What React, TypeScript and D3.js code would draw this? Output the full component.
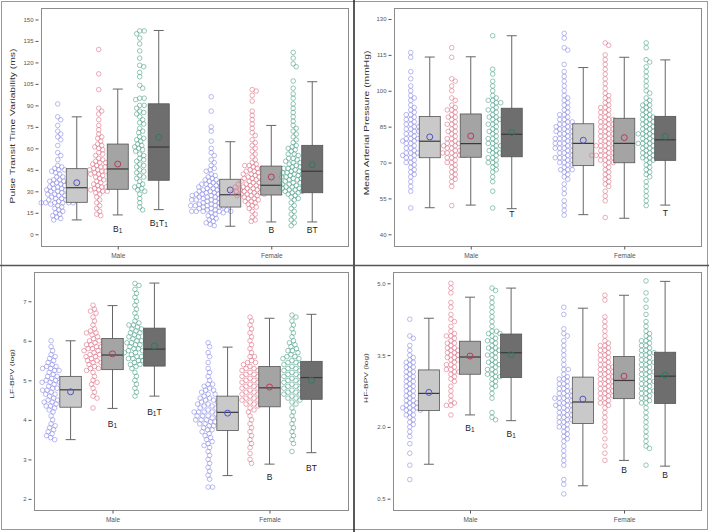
import { useEffect, useRef } from 'react';
import * as d3 from 'd3';

const SEXES = ['Male', 'Female'];
const CONDITIONS = ['c1', 'c2', 'c3'];
const FONT = '"Liberation Sans", Arial, sans-serif';
const POINT_COLORS = ['#8c8ce6', '#de7489', '#4fa28a'];
const MEAN_COLORS = ['#5252c4', '#b83c5a', '#2d7a65'];
const BOX_FILLS = ['#c9c9c9', '#a4a4a4', '#6e6e6e'];

// Pulse transit time variability (ms), one list per condition
const pttvMale = [
  [91, 82, 80, 76, 72, 70, 68, 66, 62, 57, 55, 52, 48, 47, 46, 45, 44, 42, 40, 38, 37, 37, 36, 35, 34, 33, 32, 31, 30, 29, 28, 27, 26, 25, 24, 23, 22, 22, 22, 22, 22, 22, 21, 20, 18, 17, 16, 15, 14, 13, 12, 11, 10,
    25, 27, 29, 30, 32, 33, 35, 36, 38, 40, 43, 45, 19, 24, 28, 31],
  [129, 112, 101, 88, 86, 84, 80, 76, 73, 70, 68, 67, 65, 63, 61, 59, 57, 55, 53, 51, 50, 49, 47, 46, 45, 44, 43, 42, 41, 40, 38, 36, 34, 33, 32, 31, 31, 30, 29, 28, 26, 24, 22, 20, 18, 16, 14, 13,
    33, 35, 37, 39, 42, 44, 47, 48, 52, 56, 60, 62, 30, 45, 50],
  [142, 142, 140, 137, 133, 128, 123, 118, 117, 113, 110, 104, 102, 95, 95, 94, 90, 88, 86, 84, 82, 80, 77, 74, 71, 68, 66, 65, 63, 61, 59, 56, 53, 51, 49, 47, 45, 43, 41, 39, 37, 35, 33, 32, 31, 30, 28, 25, 22, 19, 17,
    40, 44, 48, 52, 55, 58, 62, 67, 72, 78, 85, 90, 34, 60],
];
const pttvFemale = [
  [96, 86, 75, 72, 65, 60, 57, 55, 52, 50, 48, 46, 45, 44, 42, 41, 40, 39, 38, 37, 36, 35, 34, 33, 33, 32, 31, 30, 30, 29, 28, 28, 27, 27, 26, 25, 25, 24, 24, 23, 22, 22, 21, 21, 20, 20, 19, 19, 18, 17, 17, 16, 16, 16, 16, 16, 15, 15, 14, 13, 12, 11, 10, 9, 8, 7, 6,
    19, 20, 21, 22, 23, 24, 25, 26, 27, 28, 29, 30, 31, 32, 34, 36, 18, 22, 24, 26, 28, 30, 33, 35, 38, 17, 20],
  [101, 100, 97, 93, 86, 83, 80, 77, 74, 71, 69, 66, 64, 62, 60, 58, 56, 54, 52, 50, 49, 48, 47, 46, 45, 44, 43, 42, 41, 40, 39, 38, 37, 36, 35, 35, 34, 33, 33, 32, 31, 31, 30, 30, 29, 28, 28, 27, 27, 26, 25, 24, 23, 22, 21, 20, 19, 18, 16, 14, 12, 10, 9,
    27, 28, 29, 30, 31, 32, 33, 34, 35, 36, 37, 38, 40, 42, 44, 46, 48, 29, 31, 33, 35, 39, 25, 23, 30],
  [127, 123, 119, 117, 107, 102, 98, 95, 91, 88, 85, 82, 79, 76, 74, 72, 70, 68, 66, 64, 62, 61, 59, 58, 56, 55, 53, 52, 50, 49, 48, 47, 46, 45, 44, 43, 42, 41, 40, 39, 38, 37, 36, 35, 34, 33, 32, 31, 30, 29, 28, 27, 26, 25, 24, 22, 20, 18, 16, 14, 12, 10, 8, 6,
    29, 31, 33, 35, 37, 39, 41, 43, 45, 47, 50, 53, 56, 60, 34, 38, 42, 46, 30, 32, 36, 40, 44, 51],
];
// [lower whisker, Q1, median, Q3, upper whisker, mean]
const pttvBoxMale = [[10, 22.3, 32.5, 45.8, 82, 36], [13.5, 31.4, 45.6, 63, 101.4, 49], [17.2, 37.7, 60.9, 91.1, 142.3, 67.7]];
const pttvBoxFemale = [[5.6, 19, 27.6, 38.4, 64.6, 30.9], [8.6, 27.4, 34.2, 47.6, 76, 40], [8.6, 29, 44, 62.1, 106.5, 48.6]];
const pttvTicks = [0, 15, 30, 45, 60, 75, 90, 105, 120, 135, 150];
const pttvLabels: [string, number, string][] = [['Male', 1, 'B1'], ['Male', 2, 'B1T1'], ['Female', 1, 'B'], ['Female', 2, 'BT']];

// Mean arterial pressure (mmHg)
const mapMale = [
  [116, 114, 108, 105, 102, 100, 98, 97, 96, 94, 93, 92, 91, 90, 89, 88, 87, 86, 85, 85, 84, 83, 82, 81, 80, 80, 79, 78, 77, 76, 75, 74, 74, 73, 73, 72, 71, 70, 69, 68, 67, 66, 65, 64, 62, 60, 58, 51,
    72, 74, 76, 78, 80, 82, 84, 86, 88, 73, 79, 83, 90, 70],
  [118, 114, 105, 104, 102, 100, 97, 96, 94, 93, 92, 91, 90, 89, 88, 87, 86, 85, 84, 83, 82, 81, 80, 79, 78, 78, 77, 76, 75, 74, 74, 73, 73, 72, 71, 70, 69, 68, 67, 66, 65, 64, 63, 62, 60, 52,
    72, 74, 76, 78, 80, 83, 86, 89, 92, 73, 75, 77, 70],
  [123, 109, 107, 104, 102, 100, 98, 97, 96, 95, 94, 93, 92, 91, 90, 89, 88, 87, 86, 85, 84, 83, 82, 81, 80, 79, 78, 77, 77, 76, 75, 74, 73, 72, 71, 70, 69, 68, 67, 66, 64, 62, 58, 51,
    72, 75, 78, 80, 83, 86, 89, 92, 95, 74, 88, 96, 70],
];
const mapFemale = [
  [124, 122, 118, 117, 111, 108, 106, 104, 102, 100, 98, 97, 96, 95, 94, 93, 92, 91, 90, 89, 88, 87, 86, 85, 84, 84, 83, 83, 82, 81, 80, 80, 79, 78, 78, 77, 76, 76, 75, 74, 73, 72, 72, 71, 70, 69, 68, 67, 67, 67, 66, 65, 64, 63, 61, 59, 57, 54, 52, 50, 48,
    69, 71, 73, 75, 77, 79, 81, 83, 85, 87, 72, 74, 76, 78, 80, 82, 84, 86, 88, 90, 70, 75, 80, 85],
  [120, 119, 115, 113, 111, 109, 107, 105, 103, 101, 99, 98, 97, 96, 95, 94, 93, 92, 91, 90, 89, 88, 87, 86, 85, 84, 83, 82, 81, 80, 79, 78, 77, 77, 76, 75, 74, 73, 73, 73, 73, 73, 72, 71, 70, 69, 68, 67, 66, 65, 64, 63, 62, 61, 60, 58, 56, 54, 47,
    70, 72, 74, 76, 78, 80, 82, 84, 86, 88, 71, 75, 79, 83, 87, 91, 93, 73, 77, 81, 85, 89],
  [120, 118, 113, 112, 110, 108, 106, 104, 102, 100, 99, 97, 96, 95, 94, 93, 92, 91, 90, 89, 88, 87, 86, 85, 84, 83, 82, 82, 81, 80, 79, 78, 78, 77, 76, 75, 74, 73, 72, 71, 70, 69, 68, 67, 66, 65, 64, 62, 60, 58, 56, 54, 52,
    71, 73, 75, 77, 79, 81, 83, 85, 87, 89, 72, 76, 80, 84, 88, 92, 74, 78, 82, 86, 90, 94],
];
const mapBoxMale = [[51.1, 72, 78.9, 89.2, 114.1, 80.7], [52.2, 72.2, 77.9, 90.3, 114.2, 81.1], [50.7, 72.4, 81.8, 92.7, 123, 82.5]];
const mapBoxFemale = [[48.2, 68.7, 78, 86.2, 109.7, 79.3], [46.7, 69.9, 78, 88.5, 114, 80.4], [52.2, 70.9, 79.5, 89.3, 112.9, 81]];
const mapTicks = [40, 55, 70, 85, 100, 115, 130];
const mapLabels: [string, number, string][] = [['Male', 2, 'T'], ['Female', 2, 'T']];

// LF-BPV (log)
const lfMale = [
  [6.0, 5.85, 5.75, 5.65, 5.6, 5.55, 5.5, 5.45, 5.4, 5.35, 5.3, 5.25, 5.2, 5.15, 5.1, 5.05, 5.0, 4.95, 4.95, 4.9, 4.85, 4.8, 4.75, 4.7, 4.65, 4.6, 4.55, 4.5, 4.45, 4.4, 4.35, 4.3, 4.25, 4.2, 4.1, 4.0, 3.9, 3.85, 3.8, 3.75, 3.7, 3.65, 3.6, 3.55, 3.5,
    4.35, 4.5, 4.65, 4.8, 4.9, 5.0, 5.1, 5.25, 5.3, 4.45, 4.75, 4.95, 5.35],
  [6.9, 6.8, 6.75, 6.7, 6.6, 6.5, 6.4, 6.3, 6.25, 6.2, 6.15, 6.1, 6.05, 6.0, 5.95, 5.9, 5.85, 5.8, 5.75, 5.7, 5.65, 5.6, 5.55, 5.5, 5.45, 5.4, 5.35, 5.3, 5.25, 5.2, 5.1, 5.0, 4.95, 4.9, 4.8, 4.7, 4.6, 4.55, 4.3,
    5.3, 5.45, 5.6, 5.75, 5.9, 6.0, 5.5, 5.65, 5.85, 6.2, 5.8],
  [7.45, 7.4, 7.3, 7.2, 7.1, 7.0, 6.9, 6.8, 6.7, 6.6, 6.5, 6.45, 6.4, 6.35, 6.3, 6.25, 6.2, 6.15, 6.1, 6.05, 6.0, 5.95, 5.9, 5.85, 5.8, 5.75, 5.7, 5.65, 5.6, 5.55, 5.5, 5.45, 5.4, 5.35, 5.3, 5.2, 5.1, 5.0, 4.9, 4.8, 4.7, 4.6,
    5.4, 5.5, 5.6, 5.7, 5.8, 5.9, 6.0, 6.1, 6.2, 6.3, 5.55, 5.75, 5.95, 6.4],
];
const lfFemale = [
  [5.95, 5.85, 5.7, 5.6, 5.45, 5.3, 5.2, 5.1, 5.0, 4.9, 4.85, 4.8, 4.75, 4.7, 4.65, 4.6, 4.55, 4.5, 4.45, 4.4, 4.35, 4.3, 4.25, 4.2, 4.2, 4.15, 4.1, 4.1, 4.05, 4.0, 3.95, 3.9, 3.85, 3.8, 3.75, 3.7, 3.65, 3.6, 3.55, 3.5, 3.45, 3.4, 3.35, 3.3, 3.2, 3.1, 3.0, 2.9, 2.8, 2.7, 2.6, 2.5, 2.3, 2.3,
    3.75, 3.85, 3.95, 4.05, 4.15, 4.25, 4.35, 4.45, 4.55, 4.65, 3.9, 4.0, 4.1, 4.2, 4.3, 4.4, 4.5, 4.75, 4.9, 4.0, 4.2, 4.4],
  [6.6, 6.5, 6.4, 6.3, 6.2, 6.1, 6.0, 5.9, 5.8, 5.7, 5.6, 5.5, 5.45, 5.4, 5.35, 5.3, 5.25, 5.2, 5.15, 5.1, 5.05, 5.0, 4.95, 4.9, 4.85, 4.8, 4.75, 4.7, 4.65, 4.6, 4.55, 4.5, 4.45, 4.4, 4.35, 4.3, 4.25, 4.2, 4.1, 4.0, 3.9, 3.8, 3.7, 3.6, 3.5, 3.4, 3.3, 3.15, 3.0, 2.9,
    4.4, 4.5, 4.6, 4.7, 4.8, 4.9, 5.0, 5.1, 5.2, 5.3, 4.45, 4.65, 4.85, 5.05, 5.25, 5.45, 5.6, 4.55, 4.75, 4.95, 5.15],
  [6.65, 6.6, 6.5, 6.4, 6.3, 6.2, 6.1, 6.0, 5.95, 5.9, 5.85, 5.8, 5.75, 5.7, 5.65, 5.6, 5.55, 5.5, 5.45, 5.4, 5.35, 5.3, 5.25, 5.2, 5.15, 5.1, 5.05, 5.0, 4.95, 4.9, 4.85, 4.8, 4.75, 4.7, 4.65, 4.6, 4.55, 4.5, 4.45, 4.4, 4.3, 4.2, 4.1, 4.0, 3.9, 3.8, 3.7, 3.6, 3.5, 3.4, 3.2,
    4.55, 4.65, 4.75, 4.85, 4.95, 5.05, 5.15, 5.25, 5.35, 5.45, 5.55, 4.6, 4.8, 5.0, 5.2, 5.4, 5.6, 5.75, 4.7, 4.9, 5.1, 5.3],
];
const lfBoxMale = [[3.5, 4.32, 4.76, 5.1, 6.0, 4.71], [4.29, 5.27, 5.64, 6.06, 6.89, 5.67], [4.6, 5.36, 5.79, 6.32, 7.46, 5.87]];
const lfBoxFemale = [[2.59, 3.73, 4.19, 4.6, 5.84, 4.17], [2.88, 4.33, 4.81, 5.35, 6.57, 4.83], [3.17, 4.52, 5.07, 5.48, 6.67, 5.0]];
const lfTicks = [2, 3, 4, 5, 6, 7];
const lfLabels: [string, number, string][] = [['Male', 1, 'B1'], ['Male', 2, 'B1T'], ['Female', 1, 'B'], ['Female', 2, 'BT']];

// HF-BPV (log)
const hfMale = [
  [4.25, 3.9, 3.85, 3.7, 3.6, 3.5, 3.45, 3.4, 3.35, 3.3, 3.25, 3.2, 3.15, 3.1, 3.05, 3.0, 2.95, 2.9, 2.85, 2.8, 2.75, 2.7, 2.65, 2.6, 2.55, 2.5, 2.45, 2.4, 2.4, 2.35, 2.35, 2.3, 2.25, 2.2, 2.15, 2.1, 2.05, 2.0, 1.9, 1.8, 1.65, 1.45, 1.2, 0.9,
    2.35, 2.45, 2.55, 2.65, 2.75, 2.85, 2.95, 3.05, 3.15, 3.25, 3.35, 2.25, 2.4, 2.5],
  [5.0, 4.9, 4.8, 4.6, 4.5, 4.35, 4.25, 4.2, 4.1, 4.0, 3.95, 3.9, 3.85, 3.8, 3.75, 3.7, 3.65, 3.6, 3.55, 3.5, 3.45, 3.4, 3.35, 3.3, 3.25, 3.2, 3.15, 3.1, 3.05, 3.0, 2.95, 2.85, 2.75, 2.65, 2.55, 2.5, 2.45, 2.45, 2.25,
    3.15, 3.3, 3.45, 3.6, 3.75, 3.9, 3.5, 3.55, 3.65, 3.2, 3.4],
  [4.9, 4.85, 4.7, 4.6, 4.5, 4.4, 4.3, 4.2, 4.1, 4.0, 3.95, 3.9, 3.85, 3.8, 3.75, 3.7, 3.65, 3.6, 3.55, 3.5, 3.45, 3.4, 3.35, 3.3, 3.25, 3.2, 3.15, 3.1, 3.05, 3.0, 2.95, 2.9, 2.85, 2.8, 2.7, 2.6, 2.3, 2.2, 2.15,
    3.05, 3.2, 3.35, 3.5, 3.65, 3.8, 3.95, 3.1, 3.3, 3.6, 4.0],
];
const hfFemale = [
  [4.5, 4.35, 4.05, 3.95, 3.9, 3.8, 3.7, 3.6, 3.5, 3.4, 3.3, 3.2, 3.1, 3.05, 3.0, 2.95, 2.9, 2.85, 2.8, 2.75, 2.7, 2.65, 2.6, 2.55, 2.5, 2.45, 2.45, 2.4, 2.35, 2.3, 2.25, 2.2, 2.15, 2.1, 2.05, 2.0, 1.95, 1.9, 1.85, 1.8, 1.75, 1.7, 1.6, 1.5, 1.4, 1.3, 1.2, 0.9, 0.8, 0.6,
    2.1, 2.2, 2.3, 2.4, 2.5, 2.6, 2.7, 2.8, 2.9, 3.0, 2.15, 2.25, 2.35, 2.45, 2.55, 2.65, 2.75, 3.2, 2.0, 2.4, 2.6],
  [4.75, 4.65, 4.3, 4.2, 4.1, 4.0, 3.9, 3.8, 3.75, 3.7, 3.65, 3.6, 3.55, 3.5, 3.45, 3.4, 3.35, 3.3, 3.25, 3.2, 3.15, 3.1, 3.05, 3.0, 2.95, 2.9, 2.85, 2.8, 2.75, 2.7, 2.65, 2.6, 2.55, 2.5, 2.45, 2.4, 2.3, 2.2, 2.1, 2.0, 1.9, 1.75, 1.6, 1.45, 1.3,
    2.6, 2.7, 2.8, 2.9, 3.0, 3.1, 3.2, 3.3, 3.4, 3.5, 2.65, 2.75, 2.85, 2.95, 3.05, 3.15, 3.25, 3.6, 3.7, 2.5],
  [5.05, 4.8, 4.65, 4.5, 4.35, 4.2, 4.1, 4.0, 3.95, 3.9, 3.85, 3.8, 3.75, 3.7, 3.65, 3.6, 3.55, 3.5, 3.45, 3.4, 3.35, 3.3, 3.25, 3.2, 3.15, 3.1, 3.05, 3.0, 2.95, 2.9, 2.85, 2.8, 2.75, 2.7, 2.65, 2.6, 2.5, 2.4, 2.3, 2.2, 2.1, 2.0, 1.9, 1.8, 1.7, 1.6, 1.55, 1.2,
    2.5, 2.6, 2.7, 2.8, 2.9, 3.0, 3.1, 3.2, 3.3, 3.4, 3.5, 3.6, 2.55, 2.75, 2.95, 3.15, 3.35, 3.55, 3.7, 3.8],
];
const hfBoxMale = [[1.22, 2.34, 2.7, 3.19, 4.27, 2.72], [2.25, 3.1, 3.46, 3.79, 4.71, 3.48], [2.13, 3.03, 3.55, 3.94, 4.9, 3.51]];
const hfBoxFemale = [[0.77, 2.07, 2.52, 3.04, 4.48, 2.58], [1.3, 2.59, 2.97, 3.47, 4.75, 3.06], [1.18, 2.49, 3.06, 3.56, 5.04, 3.08]];
const hfTicks = [0.5, 2.0, 3.5, 5.0];
const hfLabels: [string, number, string][] = [['Male', 1, 'B1'], ['Male', 2, 'B1'], ['Female', 1, 'B'], ['Female', 2, 'B']];

const PANELS = [
  {
    title: 'Pulse Transit Time Variability (ms)', groups: [pttvMale, pttvFemale], boxes: [pttvBoxMale, pttvBoxFemale],
    ticks: pttvTicks, labels: pttvLabels, fmt: d3.format('d'),
    frame: [41, 8, 348, 246], domain: [-8.2, 158], titleX: 12, titleY: 126, titleSize: 10.3, labelGaps: [17, 16, 11.5, 11.5],
  },
  {
    title: 'Mean Arterial Pressure (mmHg)', groups: [mapMale, mapFemale], boxes: [mapBoxMale, mapBoxFemale],
    ticks: mapTicks, labels: mapLabels, fmt: d3.format('d'),
    frame: [394, 8, 701, 246], domain: [35.1, 134.6], titleX: 366, titleY: 123, titleSize: 10.3, labelGaps: [8, 10.5],
  },
  {
    title: 'LF-BPV (log)', groups: [lfMale, lfFemale], boxes: [lfBoxMale, lfBoxFemale],
    ticks: lfTicks, labels: lfLabels, fmt: d3.format('d'),
    frame: [34, 272, 348, 510], domain: [1.72, 7.74], titleX: 12, titleY: 374, titleSize: 8.6, labelGaps: [19, 19, 16, 18],
  },
  {
    title: 'HF-BPV (log)', groups: [hfMale, hfFemale], boxes: [hfBoxMale, hfBoxFemale],
    ticks: hfTicks, labels: hfLabels, fmt: d3.format('.1f'),
    frame: [393, 272, 701, 510], domain: [0.264, 5.236], titleX: 366, titleY: 378, titleSize: 8.4, labelGaps: [16.5, 16, 13, 12],
  },
];

// simple dodge layout so overlapping points spread sideways
function swarm(values: number[], y: (v: number) => number, dist: number) {
  const placed: { x: number; y: number }[] = [];
  return [...values].sort((a, b) => b - a).map((v) => {
    const py = y(v);
    let off = 0;
    for (let k = 0; k < 400; k++) {
      const cand = k === 0 ? 0 : (k % 2 ? 1 : -1) * Math.ceil(k / 2) * 0.5;
      if (placed.every((p) => (p.x - cand) ** 2 + (p.y - py) ** 2 >= dist * dist)) { off = cand; break; }
    }
    placed.push({ x: off, y: py });
    return { x: off, y: py };
  });
}

export default function App() {
  const svgRef = useRef<SVGSVGElement>(null);

  useEffect(() => {
    const svg = d3.select(svgRef.current);
    svg.selectAll('*').remove();
    svg.append('rect').attr('width', 709).attr('height', 532).attr('fill', '#fff');

    PANELS.forEach((p) => {
      const [x0, y0, x1, y1] = p.frame;
      const y = d3.scaleLinear().domain(p.domain).range([y1, y0]);
      const xs = d3.scalePoint().domain(SEXES).range([x0, x1]).padding(0.5);
      const step = xs.step();
      const xc = d3.scalePoint().domain(CONDITIONS).range([-step * 0.267, step * 0.267]);
      const boxW = step * 0.137;
      const g = svg.append('g');

      g.append('rect').attr('x', x0 + 0.5).attr('y', y0 + 0.5).attr('width', x1 - x0).attr('height', y1 - y0)
        .attr('fill', 'none').attr('stroke', '#8c8c8c');

      g.append('g').attr('transform', `translate(${x0 - 2.5},0)`)
        .call(d3.axisLeft(y).tickValues(p.ticks).tickFormat(p.fmt as any).tickSize(3).tickPadding(2))
        .call((a) => a.select('.domain').remove())
        .attr('font-size', 6).attr('font-family', FONT).attr('color', '#555');

      g.append('g').attr('transform', `translate(0,${y1 + 0.5})`)
        .call(d3.axisBottom(xs).tickSize(3).tickPadding(4))
        .call((a) => a.select('.domain').remove())
        .attr('font-size', 6.5).attr('font-family', FONT).attr('color', '#555');

      g.append('text')
        .attr('transform', `translate(${p.titleX},${p.titleY}) rotate(-90) scale(1,0.72)`)
        .attr('text-anchor', 'middle').attr('dy', '0.35em')
        .attr('font-size', p.titleSize).attr('font-family', FONT).attr('fill', '#333')
        .text(p.title);

      SEXES.forEach((sex, si) => {
        p.groups[si].forEach((vals, ci) => {
          const cx = xs(sex)! + xc(CONDITIONS[ci])!;
          const px = cx - step * 0.124;
          const pts = swarm(vals, y, 4.1);
          g.append('g').selectAll('circle').data(pts).join('circle')
            .attr('cx', (d) => px + d.x).attr('cy', (d) => d.y).attr('r', 2.3)
            .attr('fill', 'none').attr('stroke', POINT_COLORS[ci]).attr('stroke-width', 0.7).attr('stroke-opacity', 0.85);

          const [lo, q1, med, q3, hi, mean] = p.boxes[si][ci];
          const wk = g.append('g').attr('stroke', '#666').attr('stroke-width', 1);
          wk.append('line').attr('x1', cx).attr('x2', cx).attr('y1', y(hi)).attr('y2', y(lo));
          wk.append('line').attr('x1', cx - 5).attr('x2', cx + 5).attr('y1', y(hi)).attr('y2', y(hi));
          wk.append('line').attr('x1', cx - 5).attr('x2', cx + 5).attr('y1', y(lo)).attr('y2', y(lo));
          g.append('rect').attr('x', cx - boxW / 2).attr('width', boxW)
            .attr('y', y(q3)).attr('height', y(q1) - y(q3))
            .attr('fill', BOX_FILLS[ci]).attr('stroke', '#555').attr('stroke-width', 0.8);
          g.append('line').attr('x1', cx - boxW / 2).attr('x2', cx + boxW / 2).attr('y1', y(med)).attr('y2', y(med))
            .attr('stroke', '#3a3a3a').attr('stroke-width', 1.2);
          g.append('circle').attr('cx', cx).attr('cy', y(mean)).attr('r', 3)
            .attr('fill', 'none').attr('stroke', MEAN_COLORS[ci]).attr('stroke-width', 1);
        });
      });

      p.labels.forEach(([sex, ci, text], li) => {
        const si = SEXES.indexOf(sex);
        const cx = xs(sex)! + xc(CONDITIONS[ci])!;
        const lo = p.boxes[si][ci][0];
        const t = g.append('text').attr('x', cx).attr('y', y(lo) + p.labelGaps[li])
          .attr('text-anchor', 'middle').attr('font-size', 8.5).attr('font-family', FONT).attr('fill', '#222');
        let sub = false;
        for (const ch of text) {
          const isDigit = /\d/.test(ch);
          const ts = t.append('tspan').text(ch);
          if (isDigit) { ts.attr('font-size', 6.5); if (!sub) ts.attr('dy', 1); sub = true; }
          else if (sub) { ts.attr('dy', -1); sub = false; }
        }
      });
    });

    svg.append('rect').attr('x', 1.5).attr('y', 1.5).attr('width', 706).attr('height', 528)
      .attr('fill', 'none').attr('stroke', '#9a9a9a');
    svg.append('line').attr('x1', 354).attr('x2', 354).attr('y1', 0).attr('y2', 532)
      .attr('stroke', '#222').attr('stroke-width', 1.5);
    svg.append('line').attr('x1', 0).attr('x2', 709).attr('y1', 265.5).attr('y2', 265.5)
      .attr('stroke', '#555').attr('stroke-width', 1.5);
  }, []);

  return (
    <svg ref={svgRef} width={709} height={532}
      style={{ position: 'absolute', left: 0, top: 0, display: 'block' }} />
  );
}
